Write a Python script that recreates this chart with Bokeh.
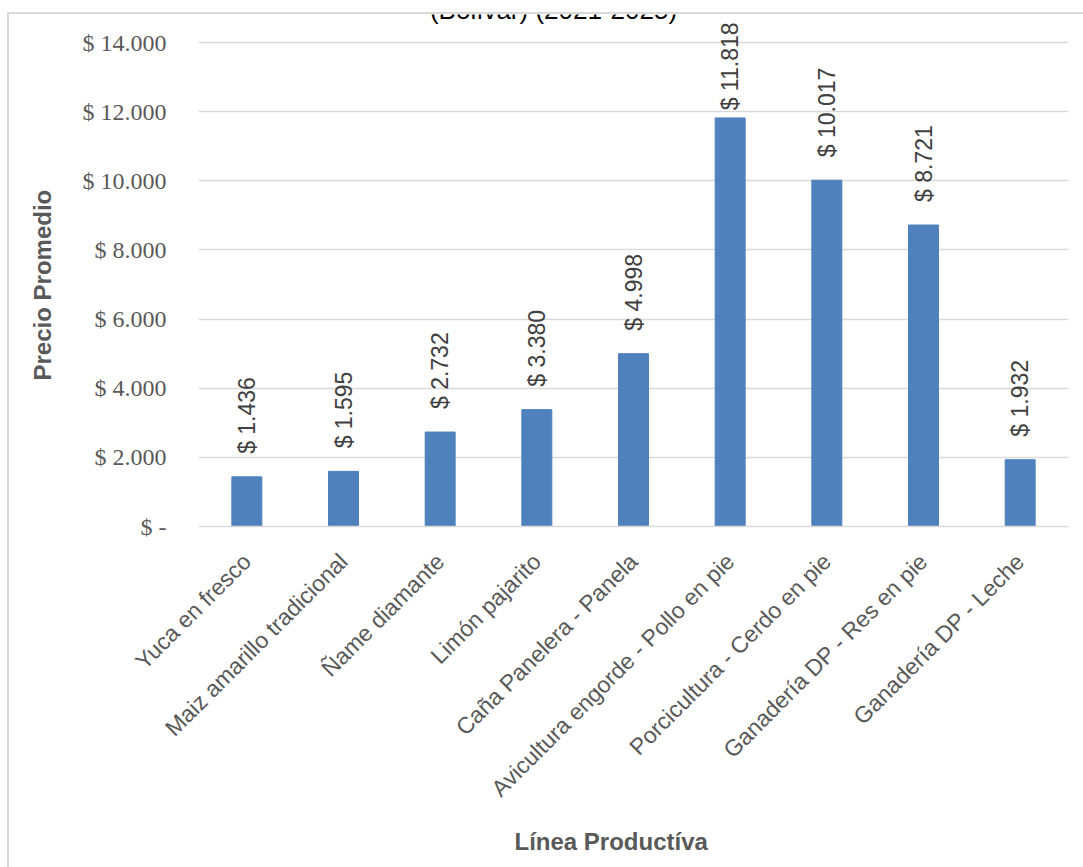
import math
from bokeh.plotting import figure
from bokeh.models import (ColumnDataSource, FactorRange, Range1d, FixedTicker,
                          Label, Title)
from bokeh.core.properties import value
from bokeh.embed import file_html
from bokeh.resources import INLINE

# ---------------- data ----------------
categories = [
    "Yuca en fresco",
    "Maiz amarillo tradicional",
    "Ñame diamante",
    "Limón pajarito",
    "Caña Panelera - Panela",
    "Avicultura engorde - Pollo en pie",
    "Porcicultura - Cerdo en pie",
    "Ganadería DP - Res en pie",
    "Ganadería DP - Leche",
]
precios = [1436, 1595, 2732, 3380, 4998, 11818, 10017, 8721, 1932]
y_ticks = [0, 2000, 4000, 6000, 8000, 10000, 12000, 14000]
y_tick_labels = ["$ -", "$ 2.000", "$ 4.000", "$ 6.000", "$ 8.000",
                 "$ 10.000", "$ 12.000", "$ 14.000"]
title_text = "(Bolívar) (2021-2025)"
x_title = "Línea Productíva"
y_title = "Precio Promedio"

# ---------------- geometry / style ----------------
W, H = 1083, 867
FL, FR, FT, FB = 198, 1068, 14, 526          # frame edges (canvas px)
Y_TOP_TICK_PX = 42                            # where the 14.000 gridline sits
Y_END = y_ticks[-1] * (FB - FT) / (FB - Y_TOP_TICK_PX)
PPU = (FB - FT) / Y_END                       # px per data unit

SANS = "Liberation Sans"
SERIF = "Liberation Serif"
GRAY = "#595959"
LBL = "#404040"
GRID = "#D9D9D9"
BAR = "#4F81BD"
LABEL_SIZE = 23
GAP = 23

def fmt(v):
    return "$ " + f"{v:,}".replace(",", ".")

texts = [fmt(v) for v in precios]
ys, offs, aligns = [], [], []
for v, t in zip(precios, texts):
    est_len = 0.56 * LABEL_SIZE * len(t)
    start_px = FB - v * PPU - GAP
    if start_px - est_len < 22:
        ys.append(Y_END); offs.append(8); aligns.append("right")
    else:
        ys.append(v); offs.append(-GAP); aligns.append("left")

src = ColumnDataSource(dict(cat=categories, val=precios, txt=texts,
                            ly=ys, loff=offs, lal=aligns))

frame_css = ("linear-gradient(#D9D9D9, #D9D9D9) 7px 12px / 2px 100% no-repeat, "
             "linear-gradient(#D9D9D9, #D9D9D9) 7px 12px / 100% 2px no-repeat, #ffffff")

p = figure(width=W, height=H, x_range=FactorRange(*categories),
           y_range=Range1d(0, Y_END), output_backend="svg",
           toolbar_location=None, tools="",
           styles={"background": frame_css})
p.min_border_left = FL
p.min_border_right = W - FR
p.min_border_top = FT
p.min_border_bottom = H - FB
p.outline_line_color = None
p.background_fill_color = "white"
p.border_fill_color = None

p.vbar(x="cat", top="val", width=0.31, source=src,
       fill_color=BAR, line_color=BAR)

p.text(x="cat", y="ly", text="txt", y_offset="loff", text_align="lal",
       angle=math.pi / 2, text_baseline="middle", source=src,
       text_font=value(SANS), text_font_size=f"{LABEL_SIZE}px",
       text_color=LBL)

# axes
p.xgrid.grid_line_color = None
p.ygrid.grid_line_color = GRID
p.ygrid.grid_line_width = 1.3

p.yaxis.ticker = FixedTicker(ticks=y_ticks)
p.yaxis.major_label_overrides = {t: l for t, l in zip(y_ticks, y_tick_labels)}
p.yaxis.axis_line_color = None
p.yaxis.major_tick_line_color = None
p.yaxis.minor_tick_line_color = None
p.yaxis.major_label_text_font = SERIF
p.yaxis.major_label_text_font_size = "24px"
p.yaxis.major_label_text_color = GRAY
p.yaxis.major_label_standoff = 26

p.xaxis.axis_line_color = GRID
p.xaxis.axis_line_width = 1.5
p.xaxis.major_tick_line_color = None
p.xaxis.minor_tick_line_color = None
p.xaxis.major_label_orientation = math.pi / 4
p.xaxis.major_label_text_font = SANS
p.xaxis.major_label_text_font_size = "23px"
p.xaxis.major_label_text_color = GRAY
p.xaxis.major_label_standoff = 25

# axis titles
p.add_layout(Title(text=y_title, align="left", offset=146, standoff=47,
                   text_font=SANS, text_font_size="24px", text_font_style="bold",
                   text_color=GRAY), "left")
p.add_layout(Title(text=x_title, align="left", offset=316, standoff=25,
                   text_font=SANS, text_font_size="24px", text_font_style="bold",
                   text_color=GRAY), "below")

# chart title (cut off at the top edge, as in the reference)
p.add_layout(Label(x=553 - FL, y=FB - 9, x_units="screen", y_units="screen",
                   text=title_text, text_align="center", text_baseline="alphabetic",
                   text_font=SANS, text_font_size="26px", text_color="#000000"))

open("out.html", "w").write(file_html(p, INLINE))
